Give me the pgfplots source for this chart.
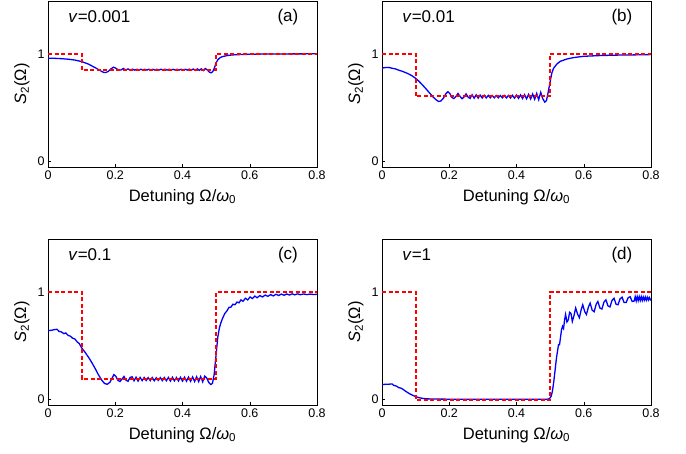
\documentclass[border=0pt]{standalone}
\usepackage{fontspec}
\setmainfont{Liberation Sans}
\usepackage{pgfplots}
\pgfplotsset{compat=1.18}
\definecolor{cblue}{RGB}{0,0,255}
\definecolor{cred}{RGB}{255,0,0}
\tikzset{lab/.style={font=\fontsize{17}{20}\selectfont}}
\pgfplotsset{
  panel/.style={
    scale only axis, width=269pt, height=166pt,
    xmin=0, xmax=0.8, ymin=-0.05, ymax=1.49,
    xtick={0,0.2,0.4,0.6,0.8}, ytick={0,1},
    tick align=inside, xtick pos=bottom, ytick pos=left,
    major tick length=3pt,
    tick style={black, line width=0.4pt},
    axis line style={line width=0.7pt},
    /pgf/number format/assume math mode=true,
    tick label style={font=\fontsize{12.5}{14}\selectfont},
    xlabel={Detuning Ω/\textit{ω}\textsubscript{0}},
    ylabel={\textit{S}\textsubscript{2}(Ω)},
    xlabel style={at={(axis description cs:0.5,-0.181)}, anchor=center, font=\fontsize{16.5}{19}\selectfont},
    ylabel style={at={(axis description cs:-0.097,0.5)}, anchor=center, font=\fontsize{16.5}{19}\selectfont},
  },
}
\begin{document}
\begin{tikzpicture}
\useasboundingbox (0,0) rectangle (686pt,454pt);
% (a)
\begin{axis}[panel, at={(48pt,287pt)}, anchor=south west]
\addplot[cblue, solid, line width=1.3pt] coordinates {
(0,0.960)(0.02,0.958)(0.04,0.955)(0.06,0.950)(0.08,0.942)(0.10,0.928)(0.12,0.905)(0.14,0.872)(0.155,0.845)(0.165,0.828)(0.172,0.826)(0.18,0.838)(0.188,0.862)(0.195,0.876)(0.202,0.866)(0.21,0.848)(0.217,0.850)(0.224,0.864)(0.231,0.850)(0.238,0.860)(0.245,0.848)(0.252,0.858)(0.258,0.848)(0.264,0.857)(0.270,0.849)
(0.276,0.857)(0.282,0.849)(0.288,0.857)(0.294,0.849)(0.300,0.857)(0.306,0.849)(0.312,0.857)(0.318,0.849)(0.324,0.857)(0.330,0.849)(0.336,0.857)(0.342,0.849)(0.348,0.857)(0.354,0.849)(0.360,0.857)(0.366,0.849)(0.372,0.857)(0.378,0.849)(0.384,0.857)(0.390,0.849)(0.396,0.857)(0.402,0.849)(0.408,0.857)(0.414,0.849)(0.420,0.858)(0.426,0.848)(0.432,0.859)(0.438,0.847)(0.444,0.860)(0.450,0.846)(0.456,0.861)(0.462,0.845)(0.468,0.864)(0.474,0.850)(0.480,0.830)(0.485,0.824)(0.490,0.835)(0.495,0.870)(0.500,0.915)(0.505,0.945)(0.512,0.965)(0.52,0.975)(0.535,0.985)(0.55,0.990)(0.58,0.994)(0.62,0.997)(0.7,0.999)(0.8,1.0)};
\addplot[cred, line width=1.8pt, dash pattern=on 4pt off 2.5pt] coordinates {(0,1)(0.1,1)(0.1,0.85)(0.5,0.85)(0.5,1)(0.8,1)};
\node[lab, anchor=west] at (axis description cs:0.063,0.904) {\textit{v}=0.001};
\node[lab] at (axis description cs:0.892,0.904) {(a)};
\end{axis}
% (b)
\begin{axis}[panel, at={(382pt,287pt)}, anchor=south west]
\addplot[cblue, solid, line width=1.3pt] coordinates {
(0,0.868)(0.01,0.872)(0.02,0.874)(0.03,0.866)(0.04,0.860)(0.05,0.848)(0.06,0.838)(0.07,0.826)(0.08,0.812)(0.09,0.795)(0.10,0.772)(0.11,0.745)(0.12,0.712)(0.13,0.678)(0.14,0.642)(0.15,0.606)(0.16,0.575)(0.168,0.558)(0.175,0.562)(0.183,0.590)(0.190,0.630)(0.196,0.648)(0.202,0.630)(0.208,0.595)(0.214,0.585)(0.220,0.605)(0.226,0.632)(0.232,0.605)(0.238,0.583)(0.244,0.600)(0.250,0.628)(0.256,0.598)(0.262,0.586)
(0.268,0.620)(0.274,0.588)(0.280,0.619)(0.286,0.589)(0.292,0.617)(0.298,0.590)(0.304,0.615)(0.310,0.591)(0.316,0.614)(0.322,0.592)(0.328,0.613)(0.334,0.592)(0.340,0.613)(0.346,0.592)(0.352,0.613)(0.358,0.592)(0.364,0.613)(0.370,0.591)(0.376,0.614)(0.382,0.590)(0.388,0.615)(0.394,0.589)(0.400,0.617)(0.406,0.587)(0.412,0.619)(0.418,0.585)(0.424,0.621)(0.430,0.583)(0.436,0.624)(0.442,0.581)(0.448,0.627)(0.454,0.578)(0.460,0.632)(0.466,0.575)(0.472,0.642)(0.478,0.585)(0.484,0.552)(0.489,0.565)(0.494,0.640)(0.50,0.740)(0.505,0.820)(0.51,0.865)(0.52,0.905)(0.53,0.930)(0.55,0.952)(0.57,0.965)(0.6,0.977)(0.65,0.984)(0.7,0.988)(0.75,0.990)(0.8,0.993)};
\addplot[cred, line width=1.8pt, dash pattern=on 4pt off 2.5pt] coordinates {(0,1)(0.1,1)(0.1,0.605)(0.5,0.605)(0.5,1)(0.8,1)};
\node[lab, anchor=west] at (axis description cs:0.063,0.904) {\textit{v}=0.01};
\node[lab] at (axis description cs:0.892,0.904) {(b)};
\end{axis}
% (c)
\begin{axis}[panel, at={(48pt,49pt)}, anchor=south west]
\addplot[cblue, solid, line width=1.3pt] coordinates {
(0,0.640)(0.01,0.643)(0.02,0.650)(0.027,0.652)(0.033,0.632)(0.04,0.628)(0.047,0.612)(0.053,0.618)(0.06,0.595)(0.067,0.588)(0.073,0.570)(0.08,0.562)(0.087,0.535)(0.093,0.520)(0.10,0.480)(0.11,0.440)(0.12,0.395)(0.13,0.345)(0.14,0.290)(0.15,0.230)(0.16,0.180)(0.168,0.150)(0.176,0.142)(0.184,0.160)(0.190,0.195)(0.196,0.232)(0.202,0.215)(0.208,0.178)(0.214,0.168)(0.220,0.190)(0.226,0.215)(0.232,0.180)(0.238,0.170)(0.244,0.205)(0.250,0.212)(0.256,0.175)(0.262,0.208)(0.268,0.172)
(0.274,0.206)(0.280,0.176)(0.286,0.205)(0.292,0.177)(0.298,0.204)(0.304,0.176)(0.310,0.205)(0.316,0.175)(0.322,0.203)(0.328,0.178)(0.334,0.204)(0.340,0.176)(0.346,0.205)(0.352,0.175)(0.358,0.206)(0.364,0.172)(0.370,0.207)(0.376,0.174)(0.382,0.205)(0.388,0.173)(0.394,0.207)(0.400,0.172)(0.406,0.208)(0.412,0.171)(0.418,0.209)(0.424,0.170)(0.430,0.210)(0.436,0.168)(0.442,0.212)(0.448,0.167)(0.454,0.214)(0.460,0.165)(0.466,0.218)(0.472,0.200)(0.478,0.160)(0.484,0.140)(0.489,0.150)(0.494,0.230)(0.50,0.420)(0.505,0.580)(0.51,0.670)(0.515,0.720)(0.52,0.760)(0.526,0.800)(0.532,0.822)(0.538,0.855)(0.544,0.858)(0.550,0.885)(0.556,0.880)(0.562,0.905)(0.568,0.898)(0.574,0.925)(0.580,0.912)(0.587,0.940)(0.594,0.925)(0.601,0.952)(0.608,0.938)(0.615,0.960)(0.622,0.945)(0.630,0.965)(0.638,0.952)(0.646,0.970)(0.654,0.958)(0.662,0.974)(0.670,0.962)(0.678,0.977)(0.686,0.966)(0.694,0.979)(0.702,0.968)(0.710,0.980)(0.718,0.970)(0.726,0.981)(0.734,0.972)(0.742,0.981)(0.750,0.973)(0.760,0.980)(0.770,0.974)(0.780,0.979)(0.790,0.975)(0.800,0.977)};
\addplot[cred, line width=1.8pt, dash pattern=on 4pt off 2.5pt] coordinates {(0,1)(0.1,1)(0.1,0.19)(0.5,0.19)(0.5,1)(0.8,1)};
\node[lab, anchor=west] at (axis description cs:0.063,0.904) {\textit{v}=0.1};
\node[lab] at (axis description cs:0.892,0.904) {(c)};
\end{axis}
% (d)
\begin{axis}[panel, at={(382pt,49pt)}, anchor=south west]
\addplot[cblue, solid, line width=1.3pt] coordinates {
(0,0.140)(0.01,0.142)(0.02,0.143)(0.03,0.145)(0.035,0.132)(0.04,0.128)(0.045,0.122)(0.05,0.110)(0.055,0.108)(0.06,0.100)(0.065,0.090)(0.07,0.078)(0.075,0.068)(0.08,0.058)(0.085,0.050)(0.09,0.042)(0.095,0.035)(0.10,0.028)(0.11,0.018)(0.12,0.012)(0.13,0.008)(0.15,0.005)(0.2,0.004)(0.3,0.003)(0.4,0.003)(0.49,0.003)(0.498,0.008)(0.503,0.030)(0.507,0.080)(0.511,0.170)(0.515,0.280)(0.519,0.390)(0.522,0.450)(0.525,0.510)(0.528,0.510)(0.531,0.580)(0.534,0.650)(0.537,0.680)(0.540,0.660)(0.543,0.740)(0.546,0.790)(0.550,0.720)(0.554,0.740)(0.558,0.810)(0.562,0.800)(0.566,0.725)(0.571,0.780)(0.576,0.850)(0.582,0.790)(0.587,0.760)(0.592,0.830)(0.597,0.880)(0.603,0.815)(0.608,0.790)(0.614,0.860)(0.619,0.895)(0.625,0.830)(0.631,0.815)(0.637,0.885)(0.642,0.910)(0.648,0.850)(0.654,0.840)(0.660,0.905)(0.666,0.925)(0.672,0.870)(0.678,0.860)(0.684,0.920)(0.690,0.940)(0.696,0.885)(0.702,0.880)(0.708,0.935)(0.714,0.950)(0.720,0.900)(0.726,0.900)(0.732,0.945)(0.738,0.955)(0.744,0.910)(0.750,0.915)
(0.753,0.955)(0.756,0.915)(0.759,0.955)(0.762,0.918)(0.765,0.955)(0.768,0.920)(0.771,0.955)(0.774,0.920)(0.777,0.952)(0.780,0.922)(0.783,0.952)(0.786,0.922)(0.789,0.950)(0.792,0.924)(0.795,0.948)(0.798,0.926)(0.800,0.935)};
\addplot[cred, line width=1.8pt, dash pattern=on 4pt off 2.5pt] coordinates {(0,1)(0.1,1)(0.1,0)(0.5,0)(0.5,1)(0.8,1)};
\node[lab, anchor=west] at (axis description cs:0.063,0.904) {\textit{v}=1};
\node[lab] at (axis description cs:0.892,0.904) {(d)};
\end{axis}
\end{tikzpicture}
\end{document}
